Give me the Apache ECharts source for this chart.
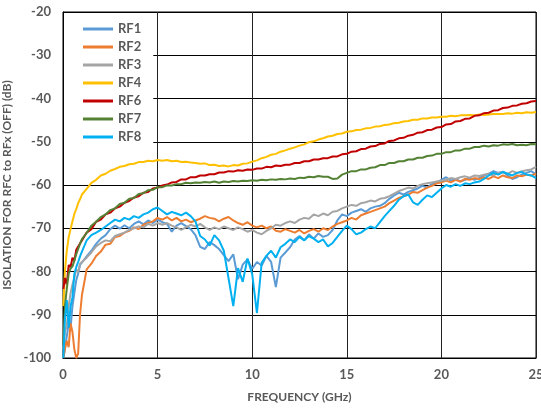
<!DOCTYPE html>
<html><head><meta charset="utf-8">
<script src="https://cdn.jsdelivr.net/npm/echarts@6/dist/echarts.min.js"></script>
<style>html,body{margin:0;padding:0;background:#fff}#c{width:541px;height:410px}</style>
</head><body><div id="c"></div>
<script>
// Frequency points (GHz)
const freq = [0.02,0.1,0.2,0.3,0.4,0.5,0.6,0.7,0.8,0.9,
1,1.25,1.5,1.75,2,2.25,2.5,2.75,3,3.25,3.5,3.75,4,4.25,4.5,4.75,
5,5.25,5.5,5.75,6,6.25,6.5,6.75,7,7.25,7.5,7.75,8,8.25,8.5,8.75,9,9.25,9.5,9.75,
10,10.25,10.5,10.75,11,11.25,11.5,11.75,12,12.25,12.5,12.75,13,13.25,13.5,13.75,14,14.25,14.5,14.75,
15,15.25,15.5,15.75,16,16.25,16.5,16.75,17,17.25,17.5,17.75,18,18.25,18.5,18.75,19,19.25,19.5,19.75,
20,20.25,20.5,20.75,21,21.25,21.5,21.75,22,22.25,22.5,22.75,23,23.25,23.5,23.75,24,24.25,24.5,24.75,
25];

const rf1 = [-100,-100,-95,-92,-93,-88,-85,-82,-80.5,-78.5,
-78.8,-76.5,-75.2,-73.6,-72.4,-71.6,-70.2,-69.4,-70.1,-69.3,-70.0,-69.0,-68.4,-69.1,-68.2,-68.8,
-68.0,-68.6,-69.0,-70.8,-69.4,-68.8,-69.5,-70.2,-71.6,-74.3,-74.8,-73.2,-73.9,-74.8,-76.2,-77.6,-76.0,-81.8,-78.4,-77.2,
-79.4,-77.8,-78.6,-76.4,-77.8,-83.6,-76.8,-75.6,-74.4,-72.6,-71.8,-72.8,-71.4,-72.4,-71.2,-72.0,-71.6,-70.4,-68.2,-66.8,
-67.2,-66.4,-66.0,-65.6,-66.2,-65.4,-65.0,-64.8,-64.2,-63.2,-62.4,-61.8,-62.2,-61.6,-61.2,-60.8,-60.2,-60.6,-59.8,-59.4,
-58.8,-58.2,-59.0,-58.6,-59.2,-58.8,-58.4,-58.8,-58.4,-57.8,-57.4,-56.8,-57.2,-56.9,-57.8,-58.6,-58.2,-57.6,-57.2,-56.8,
-57.6];

const rf2 = [-100,-98,-96,-97.5,-92,-94,-98,-100,-99,-90,
-85.5,-79.5,-78.2,-76.4,-75.4,-73.8,-73.6,-72.0,-71.8,-71.0,-70.6,-69.8,-70.2,-69.2,-68.8,-68.4,
-67.6,-68.0,-67.4,-68.2,-67.6,-68.4,-68.0,-68.6,-68.2,-67.8,-67.2,-67.6,-67.8,-68.4,-67.8,-67.4,-68.2,-68.8,-69.2,-68.6,
-69.4,-69.8,-69.4,-70.0,-69.6,-70.6,-70.8,-70.2,-70.6,-71.0,-70.4,-71.2,-70.6,-70.2,-70.8,-70.0,-70.4,-69.6,-69.0,-68.6,
-68.2,-67.6,-68.0,-67.0,-66.6,-66.2,-65.8,-65.4,-65.0,-64.2,-63.6,-63.0,-62.6,-62.2,-61.6,-61.8,-61.2,-60.6,-60.2,-59.6,
-59.4,-59.0,-59.4,-58.8,-59.2,-58.6,-58.8,-58.4,-58.6,-58.2,-58.6,-58.0,-58.4,-57.8,-58.2,-58.4,-57.8,-58.0,-57.6,-57.8,
-57.4];

const rf3 = [-98,-94,-92.5,-88,-85,-83,-81.5,-79.5,-80.2,-78.2,
-77.8,-76.8,-75.6,-74.2,-73.4,-72.8,-73.0,-71.8,-71.4,-71.0,-70.4,-70.0,-69.6,-69.8,-69.0,-69.4,
-68.8,-69.2,-68.8,-69.4,-69.8,-70.4,-69.8,-69.2,-69.6,-69.0,-69.8,-70.4,-69.8,-70.2,-69.6,-70.0,-70.4,-69.8,-70.2,-70.8,
-70.4,-71.0,-71.4,-70.6,-70.0,-69.2,-69.4,-68.8,-68.4,-68.8,-68.0,-67.6,-67.8,-66.8,-67.2,-66.6,-67.0,-66.2,-66.0,-65.4,
-65.0,-64.6,-64.8,-64.2,-64.0,-63.6,-63.8,-63.2,-63.0,-62.6,-62.0,-61.4,-61.0,-60.6,-60.8,-60.2,-59.8,-59.6,-59.4,-59.2,
-59.0,-58.8,-58.4,-58.6,-58.2,-58.0,-58.3,-57.8,-57.9,-57.6,-57.4,-57.8,-57.2,-57.0,-57.4,-56.8,-57.2,-56.8,-56.6,-56.4,
-55.8];

const rf4 = [-88,-80,-75.2,-72.1,-70.2,-68.4,-66.7,-65.6,-64.2,-63.3,
-62.2,-60.9,-59.5,-58.8,-57.8,-57.4,-56.7,-56.3,-55.8,-55.6,-55.2,-55.1,-54.7,-54.7,-54.4,-54.5,
-54.2,-54.4,-54.2,-54.5,-54.4,-54.7,-54.6,-54.8,-54.9,-55.1,-55.0,-55.4,-55.3,-55.6,-55.5,-55.7,-55.4,-55.5,-55.1,-55.0,
-54.6,-54.3,-53.8,-53.5,-53.0,-52.8,-52.3,-52.0,-51.6,-51.3,-50.9,-50.6,-50.1,-49.9,-49.5,-49.2,-48.8,-48.6,-48.2,-48.1,
-47.7,-47.6,-47.3,-47.2,-46.9,-46.8,-46.5,-46.4,-46.1,-46.0,-45.7,-45.6,-45.3,-45.2,-44.9,-44.9,-44.6,-44.6,-44.4,-44.4,
-44.2,-44.2,-44.0,-44.1,-43.9,-43.9,-43.8,-43.9,-43.7,-43.8,-43.7,-43.6,-43.6,-43.6,-43.4,-43.5,-43.3,-43.4,-43.2,-43.3,
-43.1];

const rf6 = [-84,-81.5,-83,-78.5,-79,-76.8,-77.5,-75,-75.2,-73.5,
-72.8,-71.0,-70.2,-68.5,-68.0,-66.8,-66.4,-65.4,-65.0,-64.1,-63.7,-62.9,-62.6,-61.8,-61.6,-60.8,
-60.6,-60.1,-59.9,-59.4,-59.3,-58.7,-58.7,-58.2,-58.2,-57.8,-57.8,-57.5,-57.5,-57.1,-57.1,-56.8,-56.9,-56.6,-56.7,-56.4,
-56.5,-56.2,-56.2,-55.8,-55.9,-55.5,-55.6,-55.3,-55.3,-54.9,-54.9,-54.5,-54.5,-54.1,-54.1,-53.8,-53.8,-53.4,-53.4,-52.9,
-52.8,-52.3,-52.2,-51.7,-51.6,-51.1,-51.0,-50.5,-50.4,-49.8,-49.7,-49.2,-49.1,-48.6,-48.4,-47.9,-47.8,-47.3,-47.2,-46.7,
-46.6,-46.0,-45.9,-45.3,-45.2,-44.7,-44.6,-44.0,-43.9,-43.4,-43.3,-42.8,-42.7,-42.2,-42.1,-41.7,-41.6,-41.2,-41.1,-40.7,
-40.6];

const rf7 = [-97,-88,-84,-80.5,-79.3,-78.8,-77.5,-76,-74.8,-73.6,
-72.5,-71.1,-69.4,-68.5,-67.4,-66.8,-65.8,-65.4,-64.4,-64.1,-63.2,-63.0,-62.1,-61.9,-61.2,-61.1,
-60.5,-60.5,-60.1,-60.1,-59.8,-59.8,-59.5,-59.6,-59.4,-59.5,-59.3,-59.4,-59.2,-59.5,-59.2,-59.3,-59.1,-59.2,-59.0,-59.1,
-58.9,-59.0,-58.8,-58.9,-58.7,-58.8,-58.6,-58.7,-58.5,-58.6,-58.3,-58.4,-58.1,-58.2,-57.9,-58.1,-58.1,-58.6,-58.5,-57.6,
-57.2,-56.8,-56.8,-56.4,-56.4,-56.0,-55.9,-55.4,-55.4,-54.9,-54.9,-54.5,-54.5,-54.1,-54.1,-53.7,-53.7,-53.3,-53.2,-52.8,
-52.8,-52.4,-52.4,-52.0,-52.0,-51.6,-51.6,-51.2,-51.2,-50.9,-51.1,-50.8,-50.9,-50.6,-50.7,-50.5,-50.8,-50.7,-50.8,-50.5,
-50.6];

const rf8 = [-100,-91,-86.6,-93,-88,-86,-80.5,-79,-77.8,-76.5,
-75.4,-72.8,-71.6,-71.0,-70.4,-69.6,-68.8,-68.0,-68.4,-67.6,-68.0,-67.2,-67.6,-66.8,-66.4,-65.6,
-65.2,-66.0,-66.8,-66.2,-66.6,-67.0,-66.4,-67.2,-68.4,-71.8,-72.6,-74.0,-71.6,-72.8,-75.2,-81.6,-88.0,-79.2,-82.4,-77.0,
-80.6,-89.6,-78.0,-76.4,-75.2,-76.8,-74.4,-73.6,-72.6,-73.2,-72.0,-72.8,-71.8,-72.4,-73.2,-72.6,-74.2,-73.4,-72.0,-70.6,
-69.4,-70.2,-71.4,-71.0,-70.2,-69.6,-70.0,-68.6,-67.2,-66.0,-64.8,-63.4,-62.6,-62.2,-64.0,-64.6,-63.4,-62.4,-62.8,-61.8,
-60.8,-60.0,-60.4,-59.8,-60.2,-59.6,-59.8,-59.4,-59.2,-58.6,-57.8,-57.2,-57.6,-57.0,-57.4,-57.8,-57.2,-57.0,-57.6,-57.8,
-58.4];

const seriesNames = ['RF1','RF2','RF3','RF4','RF6','RF7','RF8'];
const seriesValues = [rf1, rf2, rf3, rf4, rf6, rf7, rf8];
const colors = ['#5B9BD5','#ED7D31','#A5A5A5','#FFC000','#C00000','#548235','#00B0F0'];

const font = 'Lato';
const txt = '#595959';

const chart = echarts.init(document.getElementById('c'), null, {renderer: 'canvas'});
chart.setOption({
  animation: false,
  backgroundColor: '#fff',
  color: colors,
  grid: {left: 63, right: 5, top: 12, bottom: 52, show: true, borderColor: '#000', borderWidth: 1,
         backgroundColor: 'transparent', containLabel: false, outerBoundsMode: 'none'},
  legend: {
    orient: 'vertical', left: 64, top: 13,
    padding: [8, 12, 3, 19],
    backgroundColor: '#fff',
    itemWidth: 30, itemHeight: 3, itemGap: 2,
    icon: 'rect',
    textStyle: {color: txt, fontWeight: 'bold', fontSize: 13, fontFamily: font, lineHeight: 16},
    data: seriesNames
  },
  xAxis: {
    type: 'value', min: 0, max: 25, interval: 5,
    name: 'FREQUENCY (GHz)', nameLocation: 'middle', nameGap: 33,
    nameTextStyle: {color: txt, fontWeight: 'bold', fontSize: 12, fontFamily: font},
    axisLine: {show: true, lineStyle: {color: '#000', width: 1}},
    axisTick: {show: false},
    axisLabel: {margin: 10, color: txt, fontWeight: 'bold', fontSize: 13, fontFamily: font},
    splitLine: {show: true, lineStyle: {color: '#222', width: 1}}
  },
  yAxis: {
    type: 'value', min: -100, max: -20, interval: 10,
    name: 'ISOLATION FOR RFC to RFx (OFF) (dB)', nameLocation: 'middle', nameGap: 38,
    nameTextStyle: {color: txt, fontWeight: 'bold', fontSize: 12, fontFamily: font},
    axisLine: {show: true, lineStyle: {color: '#000', width: 1}},
    axisTick: {show: false},
    axisLabel: {margin: 12, color: txt, fontWeight: 'bold', fontSize: 13, fontFamily: font},
    splitLine: {show: true, lineStyle: {color: '#000', width: 1}}
  },
  series: seriesNames.map((n, i) => ({
    name: n, type: 'line', showSymbol: false, symbol: 'none',
    lineStyle: {width: 2, color: colors[i]},
    itemStyle: {color: colors[i]},
    clip: true,
    data: freq.map((f, j) => [f, seriesValues[i][j]])
  }))
});
</script></body></html>
